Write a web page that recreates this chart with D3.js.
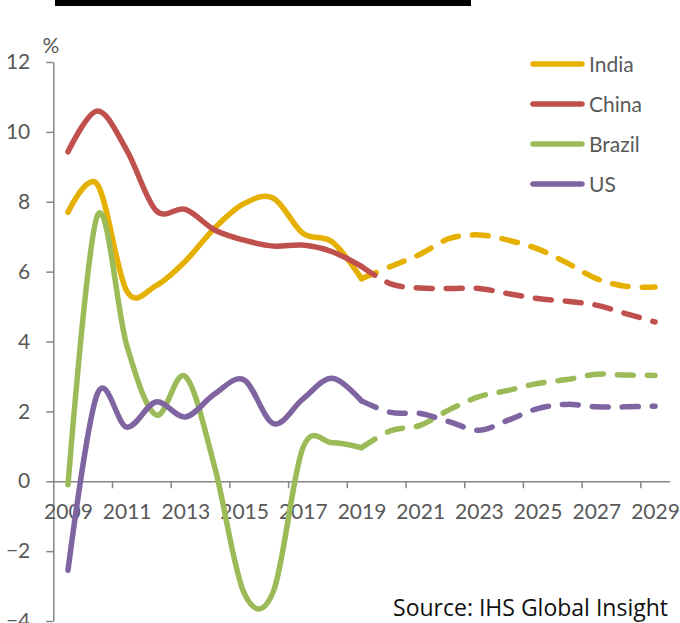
<!DOCTYPE html>
<head>
<meta charset="utf-8">
<script src="https://d3js.org/d3.v7.min.js"></script>
<style>
body { margin: 0; background: #fff; }
text { font-family: Lato, sans-serif; fill: #595959; }
.axis path, .axis line { stroke: #868686; stroke-width: 1.5; }
.axis text { font-size: 21px; fill: #595959; font-family: Lato, sans-serif; }
text.legend { font-size: 21px; }
text.source { font-family: "Open Sans", sans-serif; font-size: 23px; fill: #111; }
</style>
</head>
<body>
<script>
// actual 2009-2019, forecast 2019-2029
const years      = d3.range(2009, 2030);
const actualYrs  = d3.range(2009, 2020);
const forecastYrs = d3.range(2019, 2030);
const labelYears = d3.range(2009, 2030, 2);
const yTicks     = [-4, -2, 0, 2, 4, 6, 8, 10, 12];

const indiaActual  = [7.7, 8.5, 5.45, 5.6, 6.3, 7.25, 7.95, 8.1, 7.1, 6.85, 5.8];
const chinaActual  = [9.43, 10.6, 9.48, 7.75, 7.78, 7.19, 6.9, 6.73, 6.76, 6.57, 6.15];
const brazilActual = [-0.1, 7.6, 3.9, 1.9, 3.0, 0.4, -3.2, -3.15, 0.95, 1.1, 0.96];
const usActual     = [-2.55, 2.5, 1.55, 2.27, 1.84, 2.5, 2.9, 1.65, 2.35, 2.95, 2.3];

const indiaForecast  = [5.8, 6.15, 6.5, 6.95, 7.05, 6.9, 6.65, 6.25, 5.8, 5.58, 5.56];
const chinaForecast  = [6.15, 5.65, 5.53, 5.52, 5.52, 5.37, 5.23, 5.15, 5.04, 4.8, 4.56];
const brazilForecast = [0.96, 1.45, 1.6, 2.05, 2.42, 2.6, 2.8, 2.91, 3.06, 3.04, 3.03];
const usForecast     = [2.3, 1.97, 1.94, 1.7, 1.46, 1.75, 2.08, 2.2, 2.13, 2.13, 2.15];

const names  = ["India", "China", "Brazil", "US"];
const colors = ["#E6B000", "#C0504D", "#9BBB59", "#8064A2"];

const width = 680, height = 623;

const svg = d3.select("body").append("svg")
   .attr("width", width)
   .attr("height", height);

// black bar at the top
svg.append("rect")
   .attr("x", 55).attr("y", 0)
   .attr("width", 416).attr("height", 6)
   .attr("fill", "#000");

const x = d3.scaleLinear()
   .domain([2008.5, 2029.5])
   .range([53.3, 669.7]);

const y = d3.scaleLinear()
   .domain([-4, 12])
   .range([621, 62]);

// y axis
svg.append("g")
   .attr("class", "axis")
   .attr("transform", `translate(${x(2008.5)},0)`)
   .call(d3.axisLeft(y).tickValues(yTicks).tickSize(7).tickSizeOuter(0).tickPadding(16));

// x axis: tick marks between categories
svg.append("g")
   .attr("class", "axis")
   .attr("transform", `translate(0,${y(0)})`)
   .call(d3.axisBottom(x)
      .tickValues(d3.range(2010.5, 2029, 2))
      .tickSize(7).tickSizeOuter(0)
      .tickFormat(""));

// x axis labels
svg.append("g")
   .attr("class", "axis")
   .attr("transform", `translate(0,${y(0)})`)
   .call(d3.axisBottom(x)
      .tickValues(labelYears)
      .tickSize(0).tickPadding(23)
      .tickFormat(d3.format("d")))
   .call(g => g.select(".domain").remove());

svg.append("text")
   .attr("x", 51).attr("y", 53)
   .attr("text-anchor", "middle")
   .style("font-size", "21px")
   .text("%");

const line = d3.line()
   .x(d => x(d[0]))
   .y(d => y(d[1]))
   .curve(d3.curveCardinal.tension(0));

const actual   = [indiaActual, chinaActual, brazilActual, usActual];
const forecast = [indiaForecast, chinaForecast, brazilForecast, usForecast];

names.forEach((n, i) => {
   svg.append("path")
      .datum(actualYrs.map((yr, j) => [yr, actual[i][j]]))
      .attr("d", line)
      .attr("fill", "none")
      .attr("stroke", colors[i])
      .attr("stroke-width", 5.5)
      .attr("stroke-linecap", "round")
      .attr("stroke-linejoin", "round");
});

names.forEach((n, i) => {
   svg.append("path")
      .datum(forecastYrs.map((yr, j) => [yr, forecast[i][j]]))
      .attr("d", line)
      .attr("fill", "none")
      .attr("stroke", colors[i])
      .attr("stroke-width", 5.5)
      .attr("stroke-linecap", "round")
      .attr("stroke-dasharray", "16,14");
});

// legend
const legend = svg.selectAll("g.legend")
   .data(names)
   .enter().append("g")
   .attr("transform", (d, i) => `translate(0,${64 + i * 40})`);

legend.append("line")
   .attr("x1", 533).attr("x2", 582)
   .attr("stroke", (d, i) => colors[i])
   .attr("stroke-width", 5.5)
   .attr("stroke-linecap", "round");

legend.append("text")
   .attr("class", "legend")
   .attr("x", 589).attr("y", 7.5)
   .text(d => d);

svg.append("text")
   .attr("class", "source")
   .attr("x", 668).attr("y", 616)
   .attr("text-anchor", "end")
   .text("Source: IHS Global Insight");
</script>
</body>
